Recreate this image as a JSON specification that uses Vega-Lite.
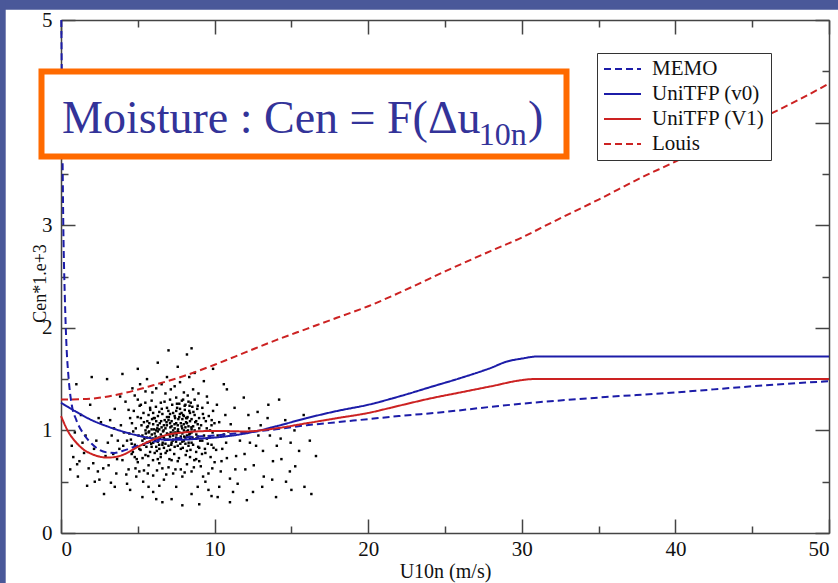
{
  "$schema": "https://vega.github.io/schema/vega-lite/v6.json",
  "autosize": {"type": "none"},
  "width": 768,
  "height": 513,
  "padding": {"left": 61, "top": 20, "right": 9, "bottom": 50},
  "background": "#ffffff",
  "config": {
    "font": "Liberation Serif, Times New Roman, serif",
    "view": {"stroke": null},
    "axis": {"domainColor": "#444444", "domainWidth": 1.5, "tickColor": "#444444", "tickWidth": 1.5, "labelFont": "Liberation Serif, Times New Roman, serif", "labelFontSize": 21, "labelColor": "#111111", "titleFont": "Liberation Serif, Times New Roman, serif", "titleFontSize": 20, "titleFontWeight": "normal", "titleColor": "#111111", "grid": false},
    "legend": {"labelFont": "Liberation Serif, Times New Roman, serif", "labelFontSize": 21, "labelColor": "#111111"},
    "text": {"font": "Liberation Serif, Times New Roman, serif"}
  },
  "datasets": {
    "one": [{}],
    "curves": [
      {"s":"MEMO","u":0.02,"c":5.0},{"s":"MEMO","u":0.08,"c":4.0},{"s":"MEMO","u":0.15,"c":3.0},{"s":"MEMO","u":0.25,"c":2.3},{"s":"MEMO","u":0.35,"c":1.85},{"s":"MEMO","u":0.5,"c":1.5},{"s":"MEMO","u":0.7,"c":1.25},{"s":"MEMO","u":1.0,"c":1.1},{"s":"MEMO","u":1.5,"c":0.96},{"s":"MEMO","u":2.0,"c":0.87},{"s":"MEMO","u":2.5,"c":0.81},{"s":"MEMO","u":3.0,"c":0.785},{"s":"MEMO","u":3.5,"c":0.78},{"s":"MEMO","u":4,"c":0.8},{"s":"MEMO","u":5,"c":0.85},{"s":"MEMO","u":6,"c":0.89},{"s":"MEMO","u":7,"c":0.91},{"s":"MEMO","u":8,"c":0.93},{"s":"MEMO","u":10,"c":0.95},{"s":"MEMO","u":12,"c":0.98},{"s":"MEMO","u":14,"c":1.01},{"s":"MEMO","u":16,"c":1.05},{"s":"MEMO","u":18,"c":1.08},{"s":"MEMO","u":20,"c":1.11},{"s":"MEMO","u":22,"c":1.14},{"s":"MEMO","u":25,"c":1.18},{"s":"MEMO","u":28,"c":1.23},{"s":"MEMO","u":30,"c":1.26},{"s":"MEMO","u":35,"c":1.32},{"s":"MEMO","u":40,"c":1.37},{"s":"MEMO","u":45,"c":1.43},{"s":"MEMO","u":50,"c":1.48},
      {"s":"UniTFP (v0)","u":0,"c":1.27},{"s":"UniTFP (v0)","u":1,"c":1.18},{"s":"UniTFP (v0)","u":2,"c":1.1},{"s":"UniTFP (v0)","u":3,"c":1.04},{"s":"UniTFP (v0)","u":4,"c":0.99},{"s":"UniTFP (v0)","u":5,"c":0.95},{"s":"UniTFP (v0)","u":6,"c":0.92},{"s":"UniTFP (v0)","u":7,"c":0.91},{"s":"UniTFP (v0)","u":8,"c":0.91},{"s":"UniTFP (v0)","u":9,"c":0.92},{"s":"UniTFP (v0)","u":10,"c":0.93},{"s":"UniTFP (v0)","u":12,"c":0.97},{"s":"UniTFP (v0)","u":14,"c":1.04},{"s":"UniTFP (v0)","u":16,"c":1.12},{"s":"UniTFP (v0)","u":18,"c":1.19},{"s":"UniTFP (v0)","u":20,"c":1.25},{"s":"UniTFP (v0)","u":22,"c":1.33},{"s":"UniTFP (v0)","u":24,"c":1.42},{"s":"UniTFP (v0)","u":26,"c":1.51},{"s":"UniTFP (v0)","u":28,"c":1.61},{"s":"UniTFP (v0)","u":29,"c":1.67},{"s":"UniTFP (v0)","u":30,"c":1.7},{"s":"UniTFP (v0)","u":31,"c":1.72},{"s":"UniTFP (v0)","u":50,"c":1.72},
      {"s":"UniTFP (V1)","u":0,"c":1.14},{"s":"UniTFP (V1)","u":0.5,"c":0.98},{"s":"UniTFP (V1)","u":1,"c":0.88},{"s":"UniTFP (V1)","u":1.5,"c":0.81},{"s":"UniTFP (V1)","u":2,"c":0.77},{"s":"UniTFP (V1)","u":2.5,"c":0.745},{"s":"UniTFP (V1)","u":3,"c":0.735},{"s":"UniTFP (V1)","u":3.5,"c":0.74},{"s":"UniTFP (V1)","u":4,"c":0.76},{"s":"UniTFP (V1)","u":5,"c":0.84},{"s":"UniTFP (V1)","u":6,"c":0.91},{"s":"UniTFP (V1)","u":7,"c":0.96},{"s":"UniTFP (V1)","u":8,"c":0.98},{"s":"UniTFP (V1)","u":10,"c":0.995},{"s":"UniTFP (V1)","u":12,"c":0.99},{"s":"UniTFP (V1)","u":14,"c":1.02},{"s":"UniTFP (V1)","u":16,"c":1.07},{"s":"UniTFP (V1)","u":18,"c":1.12},{"s":"UniTFP (V1)","u":20,"c":1.17},{"s":"UniTFP (V1)","u":22,"c":1.24},{"s":"UniTFP (V1)","u":24,"c":1.31},{"s":"UniTFP (V1)","u":26,"c":1.37},{"s":"UniTFP (V1)","u":28,"c":1.43},{"s":"UniTFP (V1)","u":30,"c":1.49},{"s":"UniTFP (V1)","u":30.7,"c":1.5},{"s":"UniTFP (V1)","u":50,"c":1.5},
      {"s":"Louis","u":0,"c":1.3},{"s":"Louis","u":2,"c":1.31},{"s":"Louis","u":4,"c":1.36},{"s":"Louis","u":6,"c":1.44},{"s":"Louis","u":8,"c":1.53},{"s":"Louis","u":10,"c":1.64},{"s":"Louis","u":12,"c":1.76},{"s":"Louis","u":14,"c":1.88},{"s":"Louis","u":16,"c":1.99},{"s":"Louis","u":18,"c":2.1},{"s":"Louis","u":20,"c":2.21},{"s":"Louis","u":22,"c":2.34},{"s":"Louis","u":25,"c":2.55},{"s":"Louis","u":28,"c":2.75},{"s":"Louis","u":30,"c":2.88},{"s":"Louis","u":32,"c":3.03},{"s":"Louis","u":35,"c":3.25},{"s":"Louis","u":38,"c":3.48},{"s":"Louis","u":40,"c":3.62},{"s":"Louis","u":42,"c":3.78},{"s":"Louis","u":45,"c":4.0},{"s":"Louis","u":48,"c":4.22},{"s":"Louis","u":50,"c":4.38}
    ],
    "pts": [
      {"u":5.1,"c":0.82},{"u":5.3,"c":0.95},{"u":5.4,"c":1.08},{"u":5.6,"c":0.88},{"u":5.7,"c":1.15},{"u":5.8,"c":0.79},{"u":5.9,"c":1.01},{"u":6.0,"c":0.92},{"u":6.1,"c":1.12},{"u":6.2,"c":0.84},{"u":6.3,"c":0.99},{"u":6.4,"c":1.18},{"u":6.5,"c":0.77},{"u":6.6,"c":0.94},{"u":6.7,"c":1.05},{"u":6.8,"c":0.87},{"u":6.9,"c":1.13},{"u":7.0,"c":0.96},{"u":7.1,"c":0.81},{"u":7.2,"c":1.09},{"u":7.3,"c":0.91},{"u":7.4,"c":1.02},{"u":7.5,"c":1.19},{"u":7.6,"c":0.85},{"u":7.7,"c":0.98},{"u":7.8,"c":1.07},{"u":7.9,"c":0.89},{"u":8.0,"c":1.14},{"u":8.1,"c":0.93},{"u":8.2,"c":0.8},{"u":8.3,"c":1.04},{"u":8.4,"c":0.97},{"u":8.5,"c":1.11},{"u":8.6,"c":0.86},{"u":8.7,"c":1.0},{"u":8.8,"c":0.92},{"u":8.9,"c":1.06},{"u":9.0,"c":0.83},
      {"u":5.2,"c":1.12},{"u":5.5,"c":0.76},{"u":5.6,"c":1.03},{"u":5.8,"c":0.93},{"u":6.0,"c":1.06},{"u":6.1,"c":0.78},{"u":6.3,"c":0.89},{"u":6.4,"c":1.01},{"u":6.6,"c":1.16},{"u":6.7,"c":0.83},{"u":6.9,"c":0.97},{"u":7.0,"c":1.1},{"u":7.2,"c":0.88},{"u":7.3,"c":1.17},{"u":7.5,"c":0.93},{"u":7.6,"c":1.05},{"u":7.8,"c":0.82},{"u":7.9,"c":1.11},{"u":8.1,"c":1.03},{"u":8.2,"c":0.95},{"u":8.4,"c":1.09},{"u":8.5,"c":0.88},{"u":8.7,"c":1.15},{"u":8.8,"c":0.79},{"u":9.0,"c":1.02},{"u":5.4,"c":0.86},{"u":5.7,"c":0.98},{"u":6.2,"c":1.09},{"u":6.5,"c":0.96},{"u":6.8,"c":1.02},{"u":7.1,"c":0.94},{"u":7.4,"c":0.84},{"u":7.7,"c":1.13},{"u":8.0,"c":0.9},{"u":8.3,"c":0.85},{"u":8.6,"c":1.04},{"u":8.9,"c":0.94},{"u":5.9,"c":0.84},{"u":6.6,"c":0.86},{"u":7.3,"c":1.0},{"u":7.9,"c":0.97},{"u":8.4,"c":1.17},{"u":5.3,"c":0.9},{"u":6.0,"c":1.17},{"u":6.7,"c":0.93},{"u":7.4,"c":1.14},{"u":8.1,"c":0.87},{"u":8.8,"c":1.09},{"u":7.0,"c":0.85},{"u":7.6,"c":0.99},{"u":8.2,"c":1.07},{"u":6.3,"c":1.05},{"u":5.5,"c":1.0},{"u":7.8,"c":0.94},{"u":7.2,"c":1.04},{"u":6.9,"c":0.8},{"u":8.5,"c":0.98},{"u":6.4,"c":0.82},{"u":7.5,"c":1.07},{"u":8.0,"c":1.0},{"u":6.1,"c":0.97},{"u":7.1,"c":1.16},
      {"u":7.75,"c":1.21},{"u":8.05,"c":1.24},{"u":8.35,"c":1.19},{"u":7.95,"c":1.3},{"u":8.25,"c":1.34},{"u":7.55,"c":1.26},{"u":8.55,"c":1.23},{"u":7.85,"c":1.17},{"u":8.15,"c":1.12},{"u":8.45,"c":1.27},
      {"u":3.1,"c":0.66},{"u":3.3,"c":0.95},{"u":3.5,"c":1.21},{"u":3.6,"c":0.58},{"u":3.8,"c":0.82},{"u":3.9,"c":1.05},{"u":4.0,"c":0.71},{"u":4.2,"c":1.28},{"u":4.3,"c":0.9},{"u":4.4,"c":0.62},{"u":4.5,"c":1.12},{"u":4.6,"c":0.77},{"u":4.7,"c":0.99},{"u":4.8,"c":1.34},{"u":4.9,"c":0.55},{"u":5.0,"c":0.69},{"u":5.2,"c":1.25},{"u":5.4,"c":0.61},{"u":5.5,"c":1.38},{"u":5.7,"c":0.66},{"u":5.9,"c":1.29},{"u":6.0,"c":0.56},{"u":6.2,"c":1.41},{"u":6.4,"c":0.68},{"u":6.5,"c":1.27},{"u":6.7,"c":0.52},{"u":6.8,"c":1.36},{"u":7.0,"c":0.64},{"u":7.1,"c":1.3},{"u":7.3,"c":0.58},{"u":7.4,"c":1.43},{"u":7.6,"c":0.7},{"u":7.7,"c":1.26},{"u":7.9,"c":0.55},{"u":8.0,"c":1.37},{"u":8.2,"c":0.67},{"u":8.3,"c":1.28},{"u":8.5,"c":0.6},{"u":8.6,"c":1.4},{"u":8.8,"c":0.72},{"u":8.9,"c":1.24},{"u":9.1,"c":0.65},{"u":9.2,"c":0.9},{"u":9.3,"c":1.12},{"u":9.4,"c":0.78},{"u":9.5,"c":1.33},{"u":9.6,"c":0.58},{"u":9.7,"c":1.0},{"u":9.8,"c":0.86},{"u":9.9,"c":1.19},{"u":10.0,"c":0.69},{"u":10.2,"c":0.95},{"u":10.3,"c":1.08},{"u":10.4,"c":0.6},{"u":10.5,"c":0.82},{"u":10.7,"c":1.15},{"u":10.8,"c":0.73},{"u":10.9,"c":0.99},{"u":11.0,"c":0.53},{"u":3.4,"c":0.77},{"u":4.1,"c":0.98},{"u":4.8,"c":0.74},{"u":5.1,"c":0.6},{"u":6.3,"c":0.72},{"u":6.6,"c":0.63},{"u":7.2,"c":0.71},{"u":7.8,"c":0.62},{"u":8.4,"c":0.74},{"u":9.0,"c":0.7},{"u":9.5,"c":0.92},{"u":9.8,"c":1.05},{"u":10.1,"c":0.81},{"u":10.6,"c":0.96},{"u":4.4,"c":1.2},{"u":5.0,"c":1.3},{"u":5.8,"c":1.22},{"u":6.9,"c":1.22},{"u":7.5,"c":1.32},{"u":8.1,"c":1.25},{"u":8.7,"c":1.3},{"u":9.2,"c":1.22},{"u":3.7,"c":0.9},{"u":4.6,"c":0.87},{"u":3.2,"c":1.1},
      {"u":0.6,"c":0.62},{"u":0.9,"c":0.98},{"u":1.1,"c":0.55},{"u":1.3,"c":1.15},{"u":1.5,"c":0.78},{"u":1.7,"c":0.46},{"u":1.9,"c":1.25},{"u":2.1,"c":0.68},{"u":2.3,"c":0.9},{"u":2.5,"c":0.52},{"u":2.6,"c":1.08},{"u":2.8,"c":0.38},{"u":2.9,"c":0.75},{"u":3.0,"c":1.5},{"u":1.0,"c":1.45},{"u":2.0,"c":1.52},{"u":0.8,"c":0.74},{"u":2.4,"c":0.6},{"u":1.6,"c":0.95},
      {"u":4.0,"c":1.55},{"u":4.5,"c":0.42},{"u":5.0,"c":1.6},{"u":5.3,"c":0.35},{"u":5.6,"c":1.5},{"u":6.0,"c":0.4},{"u":6.3,"c":1.66},{"u":6.6,"c":0.3},{"u":6.9,"c":1.52},{"u":7.2,"c":0.33},{"u":7.6,"c":1.62},{"u":7.9,"c":0.27},{"u":8.2,"c":1.74},{"u":8.5,"c":0.38},{"u":8.7,"c":1.56},{"u":9.0,"c":0.28},{"u":9.3,"c":1.48},{"u":9.6,"c":0.42},{"u":9.9,"c":1.6},{"u":10.2,"c":0.35},{"u":10.6,"c":1.45},{"u":11.0,"c":0.3},{"u":11.3,"c":1.22},{"u":11.5,"c":0.48},{"u":11.8,"c":0.98},{"u":12.0,"c":0.62},{"u":12.2,"c":1.15},{"u":12.5,"c":0.4},{"u":12.7,"c":0.85},{"u":13.0,"c":1.05},{"u":13.2,"c":0.55},{"u":13.5,"c":1.25},{"u":13.8,"c":0.7},{"u":14.0,"c":0.35},{"u":14.3,"c":0.92},{"u":14.6,"c":1.1},{"u":14.9,"c":0.6},{"u":15.2,"c":1.0},{"u":15.5,"c":0.8},{"u":15.8,"c":1.15},{"u":16.2,"c":0.9},{"u":11.4,"c":0.75},{"u":12.3,"c":0.88},{"u":13.1,"c":0.45},{"u":14.2,"c":1.3},{"u":15.0,"c":0.42},{"u":11.9,"c":1.32},{"u":12.8,"c":1.18},{"u":13.6,"c":0.95},{"u":10.8,"c":1.4},{"u":7.0,"c":1.78},{"u":8.5,"c":1.8},{"u":4.3,"c":0.48},{"u":3.5,"c":0.45},{"u":6.4,"c":0.46},{"u":9.4,"c":0.5},
      {"u":4.55,"c":0.91},{"u":4.62,"c":1.07},{"u":4.68,"c":0.79},{"u":4.74,"c":1.19},{"u":4.81,"c":0.86},{"u":4.87,"c":1.02},{"u":4.93,"c":0.72},{"u":4.99,"c":1.13},{"u":5.05,"c":0.95},{"u":5.12,"c":1.24},{"u":5.18,"c":0.81},{"u":5.24,"c":1.05},{"u":5.31,"c":0.73},{"u":5.37,"c":1.17},{"u":5.43,"c":0.92},{"u":5.49,"c":1.27},{"u":5.56,"c":0.84},{"u":5.62,"c":1.09},{"u":5.68,"c":0.75},{"u":5.74,"c":0.99},{"u":5.81,"c":1.2},{"u":5.87,"c":0.87},{"u":5.93,"c":1.11},{"u":5.99,"c":0.71},{"u":6.06,"c":1.01},{"u":6.12,"c":0.9},{"u":6.18,"c":1.23},{"u":6.24,"c":0.8},{"u":6.31,"c":1.14},{"u":6.37,"c":0.93},{"u":6.43,"c":1.07},{"u":6.49,"c":0.74},{"u":6.56,"c":1.21},{"u":6.62,"c":0.88},{"u":6.68,"c":1.0},{"u":6.74,"c":1.28},{"u":6.81,"c":0.78},{"u":6.87,"c":1.08},{"u":6.93,"c":0.91},{"u":6.99,"c":1.19},{"u":7.06,"c":0.72},{"u":7.12,"c":1.03},{"u":7.18,"c":0.86},{"u":7.24,"c":1.25},{"u":7.31,"c":0.97},{"u":7.37,"c":0.77},{"u":7.43,"c":1.12},{"u":7.49,"c":0.89},{"u":7.56,"c":1.22},{"u":7.62,"c":1.01},{"u":7.68,"c":0.73},{"u":7.74,"c":1.16},{"u":7.81,"c":0.92},{"u":7.87,"c":1.29},{"u":7.93,"c":0.83},{"u":7.99,"c":1.06},{"u":8.06,"c":1.2},{"u":8.12,"c":0.76},{"u":8.18,"c":0.99},{"u":8.24,"c":1.13},{"u":8.31,"c":0.88},{"u":8.37,"c":1.24},{"u":8.43,"c":0.81},{"u":8.49,"c":1.03},{"u":8.56,"c":0.93},{"u":8.62,"c":1.18},{"u":8.68,"c":0.71},{"u":8.74,"c":1.08},{"u":8.81,"c":0.96},{"u":8.87,"c":1.21},{"u":8.93,"c":0.84},{"u":8.99,"c":1.12},{"u":9.06,"c":0.9},{"u":9.12,"c":1.05},{"u":9.18,"c":0.77},{"u":9.24,"c":1.16},{"u":9.31,"c":0.95},{"u":9.37,"c":0.82},{"u":9.43,"c":1.09},{"u":9.49,"c":1.02},{"u":9.56,"c":0.87},{"u":9.62,"c":1.14},{"u":9.68,"c":0.94},{"u":9.74,"c":0.74},{"u":9.81,"c":1.1},{"u":9.87,"c":0.98},{"u":9.93,"c":0.83},{"u":9.99,"c":1.07},
      {"u":5.52,"c":0.97},{"u":5.66,"c":1.04},{"u":5.79,"c":0.89},{"u":5.91,"c":0.96},{"u":6.04,"c":1.12},{"u":6.16,"c":0.94},{"u":6.27,"c":1.02},{"u":6.39,"c":0.86},{"u":6.52,"c":1.09},{"u":6.64,"c":0.99},{"u":6.77,"c":0.91},{"u":6.89,"c":1.05},{"u":7.02,"c":1.13},{"u":7.14,"c":0.98},{"u":7.27,"c":0.9},{"u":7.39,"c":1.06},{"u":7.52,"c":0.96},{"u":7.64,"c":1.11},{"u":7.77,"c":0.87},{"u":7.89,"c":1.02},{"u":8.02,"c":0.94},{"u":8.14,"c":1.08},{"u":8.27,"c":1.0},{"u":8.39,"c":0.92},{"u":5.6,"c":0.93},{"u":6.2,"c":1.0},{"u":6.75,"c":1.1},{"u":7.3,"c":0.95},{"u":7.85,"c":1.04},{"u":8.35,"c":0.96},{"u":6.0,"c":0.88},{"u":6.55,"c":1.03},{"u":7.1,"c":1.07},{"u":7.65,"c":0.92},{"u":8.2,"c":1.12},{"u":5.75,"c":1.07},{"u":6.45,"c":0.92},{"u":7.45,"c":0.98},{"u":7.95,"c":1.15},{"u":8.5,"c":1.01},
      {"u":2.15,"c":0.82},{"u":2.45,"c":1.12},{"u":2.75,"c":0.63},{"u":3.05,"c":0.88},{"u":3.25,"c":0.49},{"u":3.45,"c":1.02},{"u":3.65,"c":0.72},{"u":3.85,"c":1.33},{"u":4.05,"c":0.85},{"u":4.25,"c":0.57},{"u":4.45,"c":0.97},{"u":4.65,"c":1.41},{"u":4.85,"c":0.63},{"u":5.15,"c":1.45},{"u":5.35,"c":0.5},{"u":5.65,"c":0.58},{"u":5.95,"c":1.37},{"u":6.25,"c":0.61},{"u":6.55,"c":1.45},{"u":6.85,"c":0.57},{"u":7.15,"c":1.4},{"u":7.45,"c":0.62},{"u":7.75,"c":1.47},{"u":8.05,"c":0.59},{"u":8.35,"c":1.52},{"u":8.65,"c":0.64},{"u":8.95,"c":1.36},{"u":9.25,"c":0.55},{"u":9.55,"c":1.27},{"u":9.85,"c":0.63},{"u":10.15,"c":1.25},{"u":10.45,"c":0.7},{"u":10.75,"c":0.88},{"u":11.05,"c":1.06},{"u":11.35,"c":0.62},{"u":11.65,"c":0.9},{"u":11.95,"c":0.77},{"u":12.25,"c":1.02},{"u":12.55,"c":0.66},{"u":12.85,"c":0.95},{"u":13.15,"c":0.8},{"u":13.45,"c":1.12},{"u":13.75,"c":0.52},{"u":14.05,"c":0.85},{"u":14.35,"c":0.72},{"u":14.65,"c":0.5},{"u":14.95,"c":0.88},{"u":15.25,"c":0.65},{"u":15.55,"c":1.05},{"u":15.85,"c":0.45},{"u":16.3,"c":0.38},{"u":16.6,"c":0.75},{"u":10.3,"c":0.45},{"u":11.2,"c":0.4},{"u":12.1,"c":0.32},{"u":9.8,"c":0.36},{"u":8.9,"c":0.45},{"u":7.5,"c":0.45},{"u":6.2,"c":0.33},{"u":5.7,"c":0.45},
      {"u":1.2,"c":0.7},{"u":1.4,"c":0.88},{"u":1.8,"c":0.63},{"u":2.2,"c":0.5},{"u":0.7,"c":0.85},{"u":1.05,"c":0.67}
    ]
  },
  "layer": [
    {
      "data": {"name": "one"},
      "mark": {"type": "rect", "color": "#4a5899", "clip": false},
      "encoding": {
        "x": {"datum": -10, "type": "quantitative", "scale": {"domain": [0, 50], "nice": false, "zero": false}, "axis": {"orient": "bottom", "values": [5,15,25,35,45], "tickSize": -7, "labels": false, "domain": false, "title": null}},
        "x2": {"datum": 60},
        "y": {"datum": 5.1, "type": "quantitative", "scale": {"domain": [0, 5], "nice": false, "zero": false}, "axis": {"orient": "left", "values": [0.5,1.5,2.5,3.5,4.5], "tickSize": -7, "labels": false, "domain": false, "title": null}},
        "y2": {"datum": 7}
      }
    },
    {
      "data": {"name": "one"},
      "mark": {"type": "rect", "color": "#4a5899", "clip": false},
      "encoding": {
        "x": {"datum": -10, "type": "quantitative", "axis": {"orient": "top", "values": [0,10,20,30,40,50], "tickSize": -14, "labels": false, "title": null}},
        "x2": {"datum": -3.6},
        "y": {"datum": -1, "type": "quantitative", "axis": {"orient": "right", "values": [0,1,2,3,4,5], "tickSize": -14, "labels": false, "title": null}},
        "y2": {"datum": 7}
      }
    },
    {
      "data": {"name": "pts"},
      "mark": {"type": "square", "size": 6, "color": "#000000", "opacity": 1, "filled": true},
      "encoding": {
        "x": {"field": "u", "type": "quantitative", "axis": {"orient": "bottom", "values": [0,10,20,30,40,50], "ticks": false, "labelPadding": 5, "format": "d", "title": "U10n (m/s)", "titlePadding": 2}},
        "y": {"field": "c", "type": "quantitative", "axis": {"orient": "left", "values": [0,1,2,3,4,5], "ticks": false, "labelPadding": 9, "format": "d", "title": "Cen*1.e+3", "titleX": -21, "titleY": 263, "titleAngle": 270, "titleAlign": "center", "titleBaseline": "middle", "titleFontSize": 18}}
      }
    },
    {
      "data": {"name": "curves"},
      "mark": {"type": "line", "strokeWidth": 2, "interpolate": "monotone"},
      "encoding": {
        "x": {"field": "u", "type": "quantitative", "axis": {"orient": "bottom", "values": [0,10,20,30,40,50], "tickSize": -14, "labels": false, "domain": false, "title": null}},
        "y": {"field": "c", "type": "quantitative", "axis": {"orient": "left", "values": [0,1,2,3,4,5], "tickSize": -14, "labels": false, "domain": false, "title": null}},
        "color": {"field": "s", "type": "nominal", "scale": {"domain": ["MEMO", "UniTFP (v0)", "UniTFP (V1)", "Louis"], "range": ["#1c1ca8", "#1c1ca8", "#cc2222", "#cc2222"]}, "legend": {"title": null, "orient": "none", "legendX": 536, "legendY": 33, "strokeColor": "#333333", "fillColor": "#ffffff", "padding": 6, "symbolType": "stroke", "symbolSize": 1369, "symbolStrokeWidth": 2, "clipHeight": 20, "rowPadding": 4, "labelOffset": 10}},
        "strokeDash": {"field": "s", "type": "nominal", "scale": {"domain": ["MEMO", "UniTFP (v0)", "UniTFP (V1)", "Louis"], "range": [[7, 4], [1, 0], [1, 0], [7, 4]]}, "legend": {"title": null, "orient": "none", "legendX": 536, "legendY": 33, "strokeColor": "#333333", "fillColor": "#ffffff", "padding": 6, "symbolType": "stroke", "symbolSize": 1369, "symbolStrokeWidth": 2, "clipHeight": 20, "rowPadding": 4, "labelOffset": 10}}
      }
    },
    {
      "data": {"name": "one"},
      "mark": {"type": "rect", "fill": "#ffffff", "stroke": "#ff6a00", "strokeWidth": 6, "clip": false},
      "encoding": {
        "x": {"datum": -1.27, "type": "quantitative", "axis": {"orient": "top", "values": [5,15,25,35,45], "tickSize": -7, "labels": false, "domain": false, "title": null}},
        "x2": {"datum": 32.91},
        "y": {"datum": 4.498, "type": "quantitative", "axis": {"orient": "right", "values": [0.5,1.5,2.5,3.5,4.5], "tickSize": -7, "labels": false, "domain": false, "title": null}},
        "y2": {"datum": 3.67}
      }
    },
    {
      "data": {"name": "one"},
      "mark": {"type": "text", "font": "Liberation Serif, Times New Roman, serif", "fontSize": 46, "color": "#333399", "align": "left", "baseline": "alphabetic", "clip": false},
      "encoding": {
        "x": {"datum": 0.07, "type": "quantitative", "axis": null},
        "y": {"datum": 3.9, "type": "quantitative", "axis": null},
        "text": {"value": "Moisture : Cen = F(Δu"}
      }
    },
    {
      "data": {"name": "one"},
      "mark": {"type": "text", "font": "Liberation Serif, Times New Roman, serif", "fontSize": 32, "color": "#333399", "align": "left", "baseline": "alphabetic", "clip": false},
      "encoding": {
        "x": {"datum": 27.2, "type": "quantitative", "axis": null},
        "y": {"datum": 3.782, "type": "quantitative", "axis": null},
        "text": {"value": "10n"}
      }
    },
    {
      "data": {"name": "one"},
      "mark": {"type": "text", "font": "Liberation Serif, Times New Roman, serif", "fontSize": 46, "color": "#333399", "align": "left", "baseline": "alphabetic", "clip": false},
      "encoding": {
        "x": {"datum": 30.4, "type": "quantitative", "axis": null},
        "y": {"datum": 3.9, "type": "quantitative", "axis": null},
        "text": {"value": ")"}
      }
    }
  ],
  "resolve": {"axis": {"x": "independent", "y": "independent"}}
}
